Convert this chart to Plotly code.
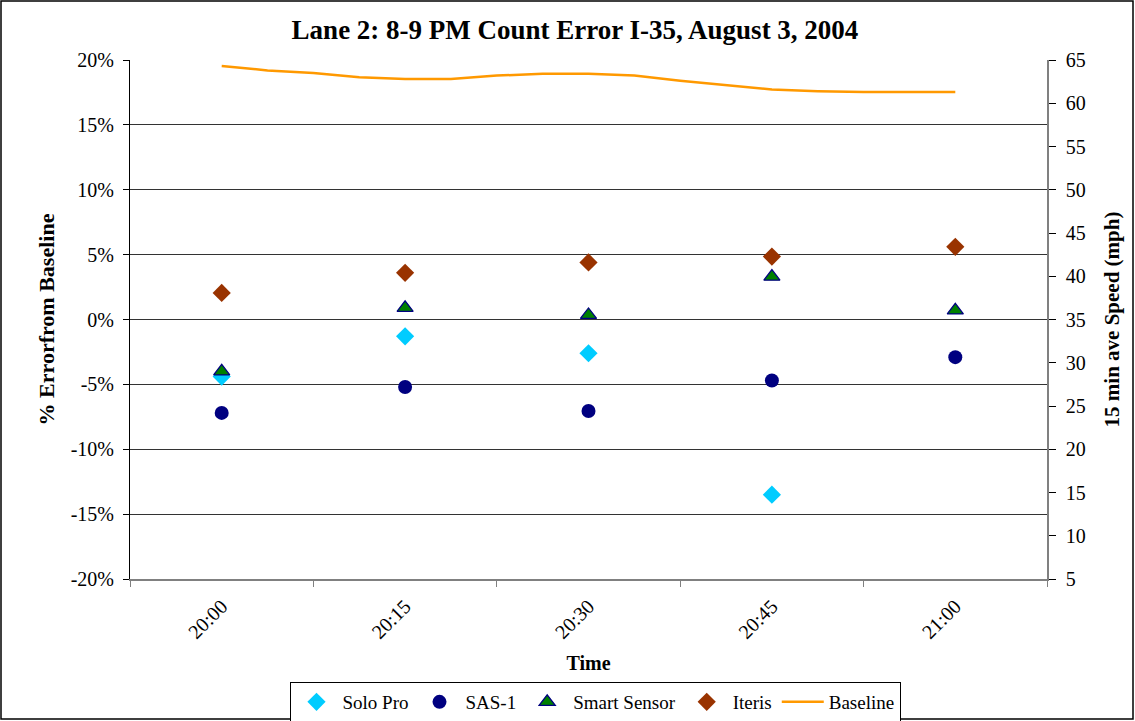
import plotly.graph_objects as go

# ---- data ----
times = ["20:00", "20:15", "20:30", "20:45", "21:00"]
solo_pro = [-4.4, -1.3, -2.6, -13.5, None]
sas_1 = [-7.2, -5.2, -7.05, -4.7, -2.9]
smart_sensor = [-4.0, 0.9, 0.35, 3.3, 0.7]
iteris = [2.05, 3.6, 4.4, 4.85, 5.6]
# baseline 15-min average speed, sampled along the hour (mph)
baseline_speed = [64.3, 63.8, 63.5, 63.0, 62.8, 62.8, 63.2, 63.4, 63.4,
                  63.2, 62.6, 62.1, 61.6, 61.4, 61.3, 61.3, 61.3]
left_ticks = [-20, -15, -10, -5, 0, 5, 10, 15, 20]
left_tick_text = ["-20%", "-15%", "-10%", "-5%", "0%", "5%", "10%", "15%", "20%"]

FONT = "Liberation Serif, Times New Roman, serif"
L, R, T, B = 130, 88, 60, 142
W, H = 1135, 721
pw, ph = W - L - R, H - T - B

fig = go.Figure()
fig.add_trace(go.Scatter(x=times, y=solo_pro, mode="markers", name="Solo Pro",
                         marker=dict(symbol="diamond", size=14, color="#00CCFF")))
fig.add_trace(go.Scatter(x=times, y=sas_1, mode="markers", name="SAS-1",
                         marker=dict(symbol="circle", size=14, color="#000080")))
fig.add_trace(go.Scatter(x=times, y=smart_sensor, mode="markers", name="Smart Sensor",
                         marker=dict(symbol="triangle-up", size=14, color="#008000",
                                     line=dict(color="#000080", width=1.3))))
fig.add_trace(go.Scatter(x=times, y=iteris, mode="markers", name="Iteris",
                         marker=dict(symbol="diamond", size=14, color="#993300")))
n = len(baseline_speed)
fig.add_trace(go.Scatter(x=list(range(n)), y=baseline_speed, mode="lines", name="Baseline",
                         line=dict(color="#FF9900", width=2.5),
                         xaxis="x2", yaxis="y2"))

tick_font = dict(family=FONT, size=20, color="black")

steps = (n - 1) / (len(times) - 1)
fig.update_layout(
    template="none",
    width=W, height=H,
    margin=dict(l=L, r=R, t=T, b=B, autoexpand=False),
    paper_bgcolor="white", plot_bgcolor="white",
    title=dict(text="<b>Lane 2: 8-9 PM Count Error I-35, August 3, 2004</b>",
               x=(575 - L) / pw, xanchor="center", xref="paper", y=1 - 30 / H, yanchor="middle",
               font=dict(family=FONT, size=27, color="black")),
    xaxis=dict(type="category", categoryorder="array", categoryarray=times,
               range=[-0.5, len(times) - 0.5], tickson="boundaries",
               ticks="outside", ticklen=6, tickcolor="#808080",
               showline=True, linecolor="#808080", linewidth=1.5,
               showgrid=False, tickangle=-45, tickfont=tick_font, automargin=False,
               ticklabelstandoff=6,
               title=dict(text="<b>Time</b>", font=dict(family=FONT, size=20, color="black"),
                          standoff=14)),
    xaxis2=dict(overlaying="x", anchor="y2", visible=False,
                range=[-0.5 * steps, (len(times) - 0.5) * steps]),
    yaxis=dict(range=[-20, 20], tickvals=left_ticks, ticktext=left_tick_text,
               ticks="outside", ticklen=6, tickcolor="black",
               showline=True, linecolor="black", linewidth=1,
               showgrid=True, gridcolor="#333333", gridwidth=1,
               zeroline=False, tickfont=tick_font, automargin=False,
               ticklabelstandoff=5,
               title=dict(text="<b>% Errorfrom Baseline</b>",
                          font=dict(family=FONT, size=22, color="black"), standoff=9)),
    yaxis2=dict(range=[5, 65], dtick=5, overlaying="y", side="right",
                ticks="outside", ticklen=7, tickcolor="black",
                showline=True, linecolor="#808080", linewidth=1.5,
                showgrid=False, zeroline=False, tickfont=tick_font, automargin=False,
                ticklabelstandoff=6,
                title=dict(text="<b>15 min ave Speed (mph)</b>",
                           font=dict(family=FONT, size=21, color="black"), standoff=20)),
    legend=dict(orientation="h", x=(595 - L) / pw, xanchor="center",
                y=-(682 - (T + ph)) / ph, yanchor="top",
                bordercolor="black", borderwidth=1, bgcolor="white",
                font=dict(family=FONT, size=19, color="black"),
                itemwidth=42, tracegroupgap=0),
    showlegend=True,
)

# outer chart border
fig.add_shape(type="rect", xref="paper", yref="paper",
              x0=(1 - L) / pw, x1=(W - 2 - L) / pw,
              y0=-(H - 2 - T - ph) / ph, y1=(T - 1) / ph + 1,
              line=dict(color="black", width=1.5), fillcolor="rgba(0,0,0,0)", layer="below")

fig.write_html("out.html", config={"displayModeBar": False},
               post_script="document.body.style.margin='0';document.body.style.overflow='hidden';")
